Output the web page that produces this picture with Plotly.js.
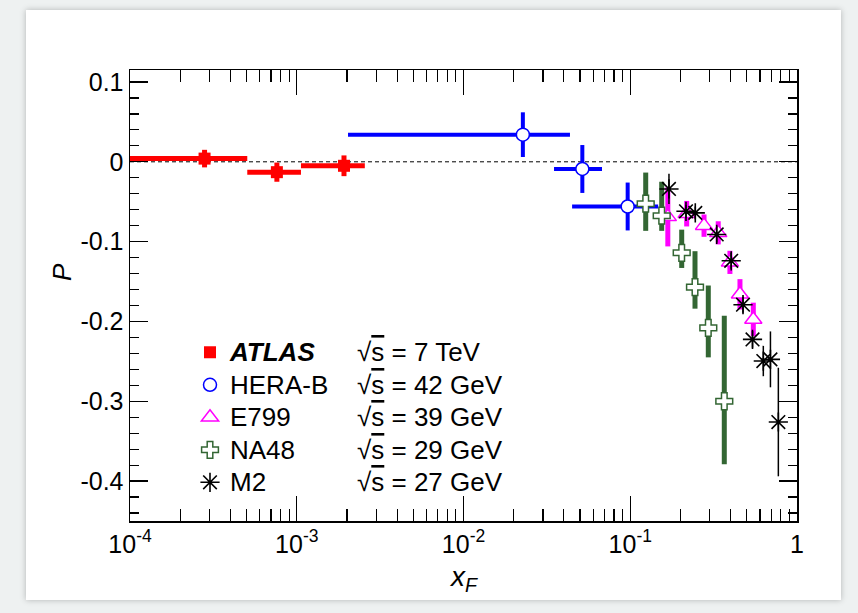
<!DOCTYPE html>
<html>
<head>
<meta charset="utf-8">
<script src="https://cdn.plot.ly/plotly-3.0.1.min.js"></script>
<style>
  html, body { margin: 0; padding: 0; background: #eef1f1; }
  #card { position: absolute; left: 26px; top: 10px; width: 815px; height: 590px; background: #ffffff;
          box-shadow: 0 0 6px rgba(0,0,0,0.25); }
  #plot { position: absolute; left: 0; top: 0; width: 858px; height: 613px; }
</style>
</head>
<body>
<div id="card"></div>
<div id="plot"></div>
<script>
// ---------------- data ----------------
const seriesNames = ['<b><i>ATLAS</i></b>', 'HERA-B', 'E799', 'NA48', 'M2'];
const energies = ['7 TeV', '42 GeV', '39 GeV', '29 GeV', '27 GeV'];

// ATLAS
const atlasX      = [2.8e-4, 7.6e-4, 1.92e-3];
const atlasXLow   = [5.0e-5, 5.05e-4, 1.06e-3];
const atlasXHigh  = [5.05e-4, 1.06e-3, 2.56e-3];
const atlasP      = [0.004, -0.013, -0.005];
const atlasPErr   = [0.011, 0.012, 0.013];

// HERA-B
const herabX     = [0.0227, 0.0516, 0.0965];
const herabXLow  = [0.00203, 0.0349, 0.0448];
const herabXHigh = [0.0435, 0.0677, 0.147];
const herabP     = [0.034, -0.009, -0.056];
const herabPErr  = [0.028, 0.030, 0.030];

// E799
const e799X    = [0.168, 0.218, 0.277, 0.337, 0.396, 0.455, 0.547];
const e799P    = [-0.069, -0.065, -0.080, -0.089, -0.126, -0.166, -0.1975];
const e799PErr = [0.037, 0.016, 0.014, 0.0145, 0.0145, 0.019, 0.021];

// NA48
const na48X       = [0.1238, 0.1544, 0.2035, 0.2445, 0.2938, 0.3664];
const na48P       = [-0.0525, -0.0675, -0.114, -0.157, -0.208, -0.300];
const na48PErrUp  = [0.039, 0.0425, 0.029, 0.045, 0.053, 0.107];
const na48PErrDn  = [0.034, 0.019, 0.019, 0.027, 0.037, 0.079];

// M2
const m2X    = [0.1707, 0.2159, 0.2455, 0.330, 0.4031, 0.4745, 0.541, 0.628, 0.693, 0.773];
const m2P    = [-0.034, -0.062, -0.064, -0.091, -0.124, -0.179, -0.2225, -0.2496, -0.2475, -0.326];
const m2PErr = [0.019, 0.008, 0.008, 0.010, 0.010, 0.010, 0.0104, 0.019, 0.035, 0.068];

// axis ticks
const xTickVals = [1e-4, 1e-3, 1e-2, 1e-1, 1];
const xTickText = ['10<sup>-4</sup>', '10<sup>-3</sup>', '10<sup>-2</sup>', '10<sup>-1</sup>', '1'];
const yTickVals = [-0.4, -0.3, -0.2, -0.1, 0, 0.1];
const yTickText = ['-0.4', '-0.3', '-0.2', '-0.1', '0', '0.1'];

// ---------------- styling ----------------
const FONT = 'Liberation Sans, Arial, Helvetica, sans-serif';
const GREEN = '#336633';

const upErr = (c, hi) => c.map((v, i) => hi[i] - v);
const dnErr = (c, lo) => c.map((v, i) => v - lo[i]);
const big = s => '<span style="font-size:26px">' + s + '</span>';

const traces = [
  {
    name: big(seriesNames[0]), x: atlasX, y: atlasP, type: 'scatter', mode: 'markers',
    marker: { symbol: 'square', size: 12, color: '#ff0000', line: { width: 0 } },
    error_x: { type: 'data', symmetric: false, array: upErr(atlasX, atlasXHigh),
               arrayminus: dnErr(atlasX, atlasXLow), color: '#ff0000', thickness: 5, width: 0 },
    error_y: { type: 'data', array: atlasPErr, color: '#ff0000', thickness: 5, width: 0 }
  },
  {
    name: big(seriesNames[1]), x: herabX, y: herabP, type: 'scatter', mode: 'markers',
    marker: { symbol: 'circle', size: 13, color: '#ffffff', line: { width: 1.5, color: '#0000ff' } },
    error_x: { type: 'data', symmetric: false, array: upErr(herabX, herabXHigh),
               arrayminus: dnErr(herabX, herabXLow), color: '#0000ff', thickness: 4, width: 0 },
    error_y: { type: 'data', array: herabPErr, color: '#0000ff', thickness: 4, width: 0 }
  },
  {
    name: big(seriesNames[2]), x: e799X, y: e799P, type: 'scatter', mode: 'markers',
    marker: { symbol: 'triangle-up', size: 15, color: '#ffffff', line: { width: 1.5, color: '#ff00ff' } },
    error_y: { type: 'data', array: e799PErr, color: '#ff00ff', thickness: 5, width: 0 }
  },
  {
    name: big(seriesNames[3]), x: na48X, y: na48P, type: 'scatter', mode: 'markers',
    marker: { symbol: 'cross', size: 14, color: '#ffffff', line: { width: 1.5, color: GREEN } },
    error_y: { type: 'data', symmetric: false, array: na48PErrUp, arrayminus: na48PErrDn, color: GREEN, thickness: 5, width: 0 }
  },
  {
    name: big(seriesNames[4]), x: m2X, y: m2P, type: 'scatter', mode: 'markers',
    marker: { symbol: 'asterisk-open', size: 16, color: '#000000', line: { width: 1.6, color: '#000000' } },
    error_y: { type: 'data', array: m2PErr, color: '#000000', thickness: 1.5, width: 0 }
  }
];

// plot-area pixel geometry
const L = 130, R = 797, T = 70, B = 521;
const W = R - L, H = B - T;
const px2x = px => (px - L) / W;
const py2y = py => (B - py) / H;

const legendRowY = [352, 385, 417, 450, 482];
const annotations = energies.map((e, i) => ({
  xref: 'paper', yref: 'paper', x: px2x(355), y: py2y(legendRowY[i]),
  xanchor: 'left', yanchor: 'middle', showarrow: false,
  text: '√<span style="text-decoration:overline">s</span> = ' + e,
  font: { family: FONT, size: 26, color: '#000' }
}));
annotations.push({
  xref: 'paper', yref: 'paper', x: px2x(62), y: py2y(272), textangle: -90,
  xanchor: 'center', yanchor: 'middle', showarrow: false,
  text: '<i>P</i>', font: { family: FONT, size: 26, color: '#000' }
});
annotations.push({
  xref: 'paper', yref: 'paper', x: 0.5, y: py2y(578),
  xanchor: 'center', yanchor: 'middle', showarrow: false,
  text: '<i>x</i><sub><i>F</i></sub>', font: { family: FONT, size: 28, color: '#000' }
});

const layout = {
  width: 858, height: 613,
  margin: { l: L, r: 858 - R, t: T, b: 613 - B, pad: 0 },
  paper_bgcolor: 'rgba(0,0,0,0)', plot_bgcolor: '#ffffff',
  font: { family: FONT, size: 25, color: '#000' },
  showlegend: true,
  legend: {
    x: px2x(190), y: py2y(331), xanchor: 'left', yanchor: 'top',
    bgcolor: 'rgba(0,0,0,0)', borderwidth: 0,
    font: { family: FONT, size: 22.7, color: '#000' },
    itemwidth: 30, traceorder: 'normal'
  },
  xaxis: {
    type: 'log', range: [-4, 0], showgrid: false, zeroline: false,
    showline: true, linecolor: '#000', linewidth: 1.5, mirror: 'ticks',
    ticks: 'inside', ticklen: 25, tickwidth: 1.2, tickcolor: '#000',
    tickmode: 'array', tickvals: xTickVals, ticktext: xTickText,
    tickfont: { family: FONT, size: 25 },
    minor: { dtick: 'D1', ticks: 'inside', ticklen: 12, tickwidth: 1.2, tickcolor: '#000', showgrid: false }
  },
  yaxis: {
    range: [-0.45, 0.115], showgrid: false, zeroline: false,
    showline: true, linecolor: '#000', linewidth: 1.5, mirror: 'ticks',
    ticks: 'inside', ticklen: 18, tickwidth: 1.2, tickcolor: '#000',
    tickmode: 'array', tickvals: yTickVals, ticktext: yTickText,
    tickfont: { family: FONT, size: 25 },
    minor: { dtick: 0.02, tick0: 0, ticks: 'inside', ticklen: 9, tickwidth: 1.2, tickcolor: '#000', showgrid: false }
  },
  shapes: [{
    type: 'line', xref: 'paper', yref: 'y', x0: 0, x1: 1, y0: 0, y1: 0,
    line: { color: '#000', width: 1, dash: '4px,3px' }, layer: 'below'
  }],
  annotations: annotations
};

Plotly.newPlot('plot', traces, layout, { displayModeBar: false, staticPlot: true });
</script>
</body>
</html>
